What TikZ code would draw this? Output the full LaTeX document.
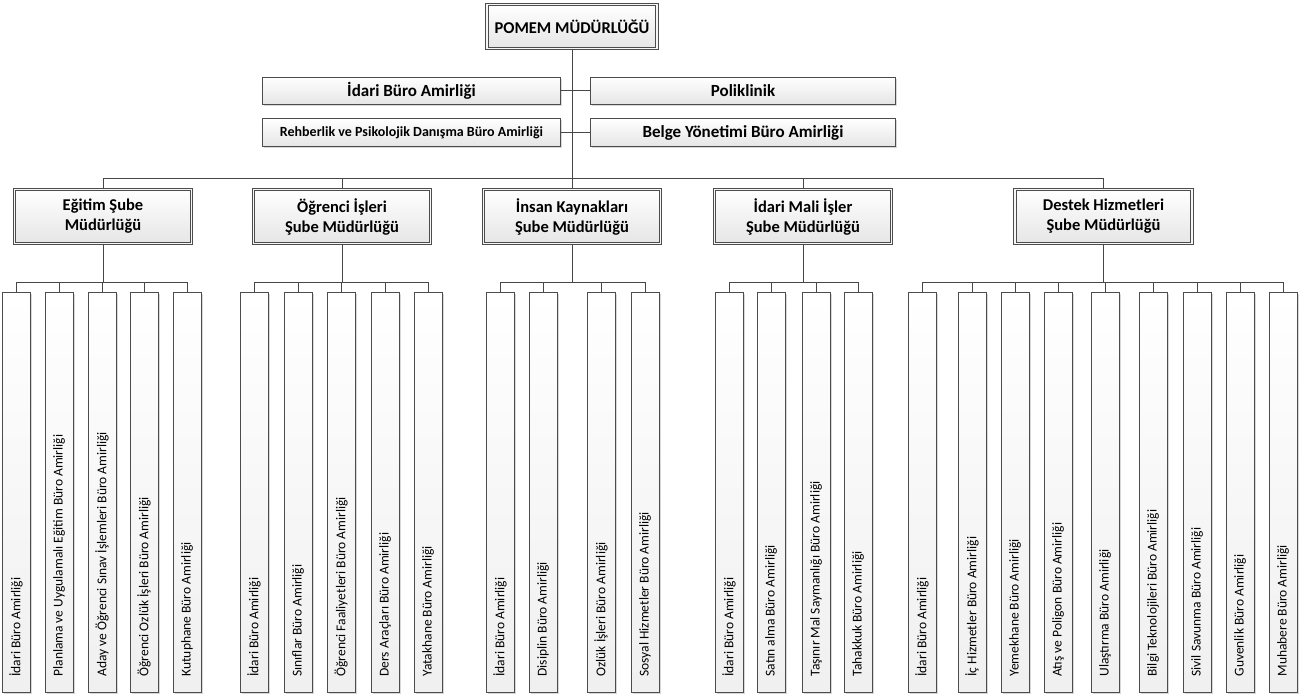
\documentclass[tikz,border=0pt]{standalone}
\usepackage{fontspec}
\usepackage{graphicx}
\setmainfont{Carlito}
\usetikzlibrary{shadows}
\begin{document}
\begin{tikzpicture}[x=1pt,y=-1pt,
  conn/.style={draw=gray!55!black, line width=0.9pt},
  boxbase/.style={draw=gray!60!black, line width=0.8pt, top color=white, bottom color=gray!20,
    inner sep=0pt, drop shadow={shadow xshift=1.5pt, shadow yshift=-1.5pt, fill=gray!60, opacity=.5}},
  dbox/.style={boxbase, double=gray!6, double distance=1.8pt, align=center},
  titlebox/.style={dbox, minimum width=170pt, minimum height=44pt, font=\bfseries\fontsize{16.5}{19}\selectfont},
  subbox/.style={dbox, minimum width=177pt, minimum height=54pt, font=\bfseries\fontsize{16.5}{20}\selectfont},
  lbox/.style={boxbase, minimum height=27pt, font=\bfseries\fontsize{17}{20}\selectfont},
  cbox/.style={boxbase, top color=white, bottom color=gray!12, minimum width=28pt, minimum height=400pt, font=\fontsize{13.5}{16}\selectfont}
]
\useasboundingbox (0,0) rectangle (1311,697);

% top
\node[titlebox] (top) at (572,26.5) {POMEM MÜDÜRLÜĞÜ};

% second tier
\node[lbox, minimum width=298pt] (ida) at (411.5,90.5) {İdari Büro Amirliği};
\node[lbox, minimum width=305pt] (poli) at (743,90.5) {Poliklinik};
\node[lbox, minimum width=298pt, minimum height=28pt, font=\bfseries\fontsize{14}{17}\selectfont] (reh) at (411.5,132.5) {Rehberlik ve Psikolojik Danışma Büro Amirliği};
\node[lbox, minimum width=305pt, minimum height=28pt] (belge) at (743,132.5) {Belge Yönetimi Büro Amirliği};

% third tier
\node[subbox] (egt) at (103,216.5) {Eğitim Şube\\Müdürlüğü};
\node[subbox] (ogr) at (342,216.5) {Öğrenci İşleri\\Şube Müdürlüğü};
\node[subbox] (ik)  at (572,216.5) {İnsan Kaynakları\\Şube Müdürlüğü};
\node[subbox] (imi) at (803,216.5) {İdari Mali İşler\\Şube Müdürlüğü};
\node[subbox] (dst) at (1103.5,216.5) {Destek Hizmetleri\\Şube Müdürlüğü};

% bus coordinates
\coordinate (mb) at (572,178);
\coordinate (b1) at (103,282);
\coordinate (b2) at (342,282);
\coordinate (b3) at (572,282);
\coordinate (b4) at (803,282);
\coordinate (b5) at (1103.5,282);

% main connectors
\draw[conn] (top.south) -- (mb);
\draw[conn] (ida.east) -- (poli.west);
\draw[conn] (reh.east) -- (belge.west);
\foreach \s in {egt,ogr,ik,imi,dst} { \draw[conn] (mb) -| (\s.north); }
\draw[conn] (egt.south) -- (b1);
\draw[conn] (ogr.south) -- (b2);
\draw[conn] (ik.south) -- (b3);
\draw[conn] (imi.south) -- (b4);
\draw[conn] (dst.south) -- (b5);

% children
\foreach \x/\n/\t in {16/a1/İdari Büro Amirliği, 59/a2/Planlama ve Uygulamalı Eğitim Büro Amirliği, 102/a3/Aday ve Öğrenci Sınav İşlemleri Büro Amirliği, 144/a4/Öğrenci Ozlük İşleri Büro Amirliği, 187/a5/Kutuphane Büro Amirliği} {
  \node[cbox] (\n) at (\x,492.5) {\rotatebox{90}{\makebox[368pt][l]{\t}}};
  \draw[conn] (b1) -| (\n.north);
}
\foreach \x/\n/\t in {254/o1/İdari Büro Amirliği, 298/o2/Sınıflar Büro Amirliği, 341/o3/Öğrenci Faaliyetleri Büro Amirliği, 385/o4/Ders Araçları Büro Amirliği, 428/o5/Yatakhane Büro Amirliği} {
  \node[cbox] (\n) at (\x,492.5) {\rotatebox{90}{\makebox[368pt][l]{\t}}};
  \draw[conn] (b2) -| (\n.north);
}
\foreach \x/\n/\t in {500/k1/İdari Büro Amirliği, 543/k2/Disiplin Büro Amirliği, 601/k3/Ozlük İşleri Büro Amirliği, 645/k4/Sosyal Hizmetler Büro Amirliği} {
  \node[cbox] (\n) at (\x,492.5) {\rotatebox{90}{\makebox[368pt][l]{\t}}};
  \draw[conn] (b3) -| (\n.north);
}
\foreach \x/\n/\t in {729/m1/İdari Büro Amirliği, 771/m2/Satın alma Büro Amirliği, 816/m3/Taşınır Mal Saymanlığı Büro Amirliği, 858/m4/Tahakkuk Büro Amirliği} {
  \node[cbox] (\n) at (\x,492.5) {\rotatebox{90}{\makebox[368pt][l]{\t}}};
  \draw[conn] (b4) -| (\n.north);
}
\foreach \x/\n/\t in {922/d1/İdari Büro Amirliği, 972/d2/İç Hizmetler Büro Amirliği, 1015/d3/Yemekhane Büro Amirliği, 1058/d4/Atış ve Poligon Büro Amirliği, 1105/d5/Ulaştırma Büro Amirliği, 1153/d6/Bilgi Teknolojileri Büro Amirliği, 1197/d7/Sivil Savunma Büro Amirliği, 1240/d8/Guvenlik Büro Amirliği, 1283/d9/Muhabere Büro Amirliği} {
  \node[cbox] (\n) at (\x,492.5) {\rotatebox{90}{\makebox[368pt][l]{\t}}};
  \draw[conn] (b5) -| (\n.north);
}
\end{tikzpicture}
\end{document}
